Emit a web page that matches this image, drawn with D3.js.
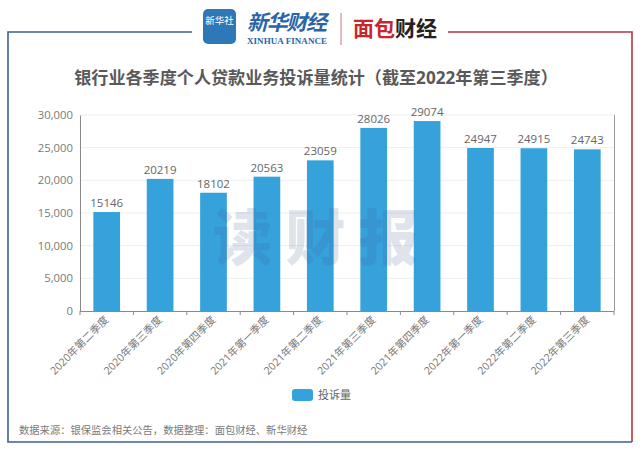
<!DOCTYPE html>
<html>
<head>
<meta charset="utf-8">
<style>
  html, body { margin: 0; padding: 0; background: #fff; }
  svg { display: block; }
  text { font-family: "Open Sans", "Noto Sans CJK SC", sans-serif; }
</style>
</head>
<body>
<script src="https://d3js.org/d3.v7.min.js"></script>
<script>
  var categories = ["2020年第二季度", "2020年第三季度", "2020年第四季度", "2021年第一季度", "2021年第二季度",
    "2021年第三季度", "2021年第四季度", "2022年第一季度", "2022年第二季度", "2022年第三季度"];
  var complaints = [15146, 20219, 18102, 20563, 23059, 28026, 29074, 24947, 24915, 24743];
  var yTicks = [0, 5000, 10000, 15000, 20000, 25000, 30000];
  var seriesName = "投诉量";
  var title = "银行业各季度个人贷款业务投诉量统计（截至2022年第三季度）";
  var source = "数据来源：银保监会相关公告，数据整理：面包财经、新华财经";

  var svg = d3.select("body").append("svg")
    .attr("width", 640)
    .attr("height", 450);

  svg.append("rect").attr("width", 640).attr("height", 450).attr("fill", "#fff");

  // frame, blue on the left and red on the right
  var frame = svg.append("g").attr("fill", "none").attr("stroke-width", 1.6);
  frame.append("path").attr("d", "M192,32H8V442H632").attr("stroke", "#3f5f96");
  frame.append("path").attr("d", "M448,32H632V442").attr("stroke", "#b8353f");

  // logos
  var logo = svg.append("g");
  logo.append("rect").attr("x", 203).attr("y", 9).attr("width", 33).attr("height", 35).attr("rx", 5).attr("fill", "#2f78b8");
  logo.append("text").attr("x", 219.5).attr("y", 24).attr("text-anchor", "middle")
    .attr("font-size", 9.5).attr("fill", "#fff").text("新华社");
  logo.append("text").attr("x", 247).attr("y", 30).attr("font-size", 21).attr("font-style", "italic")
    .attr("font-weight", 700).attr("fill", "#2a65a8").attr("textLength", 80).text("新华财经");
  logo.append("text").attr("x", 247).attr("y", 44).attr("font-size", 9).attr("font-weight", 700)
    .attr("fill", "#2a65a8").attr("textLength", 80).style("font-family", "'Liberation Serif', serif").text("XINHUA FINANCE");
  logo.append("line").attr("x1", 341).attr("x2", 341).attr("y1", 13).attr("y2", 45).attr("stroke", "#c9777c").attr("stroke-width", 1);
  logo.append("text").attr("x", 353).attr("y", 36).attr("font-size", 21).attr("font-weight", 700)
    .attr("fill", "#c8262c").attr("textLength", 42).text("面包");
  logo.append("text").attr("x", 395).attr("y", 36).attr("font-size", 21).attr("font-weight", 700)
    .attr("fill", "#222").attr("textLength", 42).text("财经");

  svg.append("text")
    .attr("x", 316).attr("y", 84)
    .attr("text-anchor", "middle")
    .attr("font-size", 17.1).attr("font-weight", 700)
    .attr("fill", "#595959")
    .text(title);

  var x = d3.scaleBand().domain(categories).range([80, 614]).paddingInner(0.5).paddingOuter(0.25);
  var y = d3.scaleLinear().domain([0, 30000]).range([311, 115]);

  // gridlines
  svg.append("g").selectAll("line")
    .data(yTicks.slice(1))
    .enter().append("line")
    .attr("x1", 80).attr("x2", 614)
    .attr("y1", y).attr("y2", y)
    .attr("stroke", "#eeeeee");

  // bars
  svg.append("g").selectAll("rect")
    .data(complaints)
    .enter().append("rect")
    .attr("x", function (d, i) { return x(categories[i]); })
    .attr("y", y)
    .attr("width", x.bandwidth())
    .attr("height", function (d) { return y(0) - y(d); })
    .attr("fill", "#36a2dc");

  // value labels
  svg.append("g").selectAll("text")
    .data(complaints)
    .enter().append("text")
    .attr("x", function (d, i) { return x(categories[i]) + x.bandwidth() / 2; })
    .attr("y", function (d) { return y(d) - 5; })
    .attr("text-anchor", "middle")
    .attr("font-size", 11.5)
    .attr("fill", "#666")
    .text(function (d) { return d; });

  // axes
  var yAxis = svg.append("g")
    .attr("transform", "translate(80,0)")
    .call(d3.axisLeft(y).tickValues(yTicks).tickSize(0).tickPadding(7).tickFormat(d3.format(",")));
  yAxis.selectAll("text").attr("font-size", 11.3).attr("fill", "#7a7a7a").style("font-family", "'Open Sans', sans-serif");
  yAxis.selectAll("line, path").attr("stroke", "#8a8a8a");

  var xAxis = svg.append("g")
    .attr("transform", "translate(0,311)")
    .call(d3.axisBottom(x).tickSize(0));
  xAxis.select("path").remove();
  xAxis.selectAll(".tick").each(function (d) {
    d3.select(this).attr("transform", "translate(" + (x(d) + x.bandwidth() / 2) + ",7)");
  });
  xAxis.selectAll("text")
    .attr("font-size", 10.6)
    .attr("fill", "#777")
    .attr("text-anchor", "end")
    .attr("x", 0)
    .attr("y", 0)
    .attr("dy", "0.35em")
    .attr("transform", "rotate(-45)");

  svg.append("line").attr("x1", 80).attr("x2", 614).attr("y1", 311.5).attr("y2", 311.5).attr("stroke", "#8a8a8a");
  svg.append("line").attr("x1", 614.5).attr("x2", 614.5).attr("y1", 115).attr("y2", 311).attr("stroke", "#9a9a9a");
  // category boundary ticks
  svg.append("g").selectAll("line")
    .data(d3.range(categories.length + 1))
    .enter().append("line")
    .attr("x1", function (d) { return 80 + d * x.step(); })
    .attr("x2", function (d) { return 80 + d * x.step(); })
    .attr("y1", 311).attr("y2", 315)
    .attr("stroke", "#8a8a8a");

  // legend
  var legend = svg.append("g");
  legend.append("rect").attr("x", 292).attr("y", 389).attr("width", 21).attr("height", 12).attr("rx", 3).attr("fill", "#36a2dc");
  legend.append("text").attr("x", 318).attr("y", 399).attr("font-size", 11).attr("fill", "#666").text(seriesName);

  svg.append("text")
    .attr("x", 19).attr("y", 434)
    .attr("font-size", 10.3)
    .attr("fill", "#7a7a7a")
    .text(source);

  // watermark sits over the bars
  svg.append("text")
    .attr("x", 322).attr("y", 260)
    .attr("text-anchor", "middle")
    .attr("font-size", 60).attr("font-weight", 900)
    .attr("letter-spacing", 13)
    .attr("fill", "#3f5f96").attr("opacity", 0.17)
    .text("读财报");
</script>
</body>
</html>
